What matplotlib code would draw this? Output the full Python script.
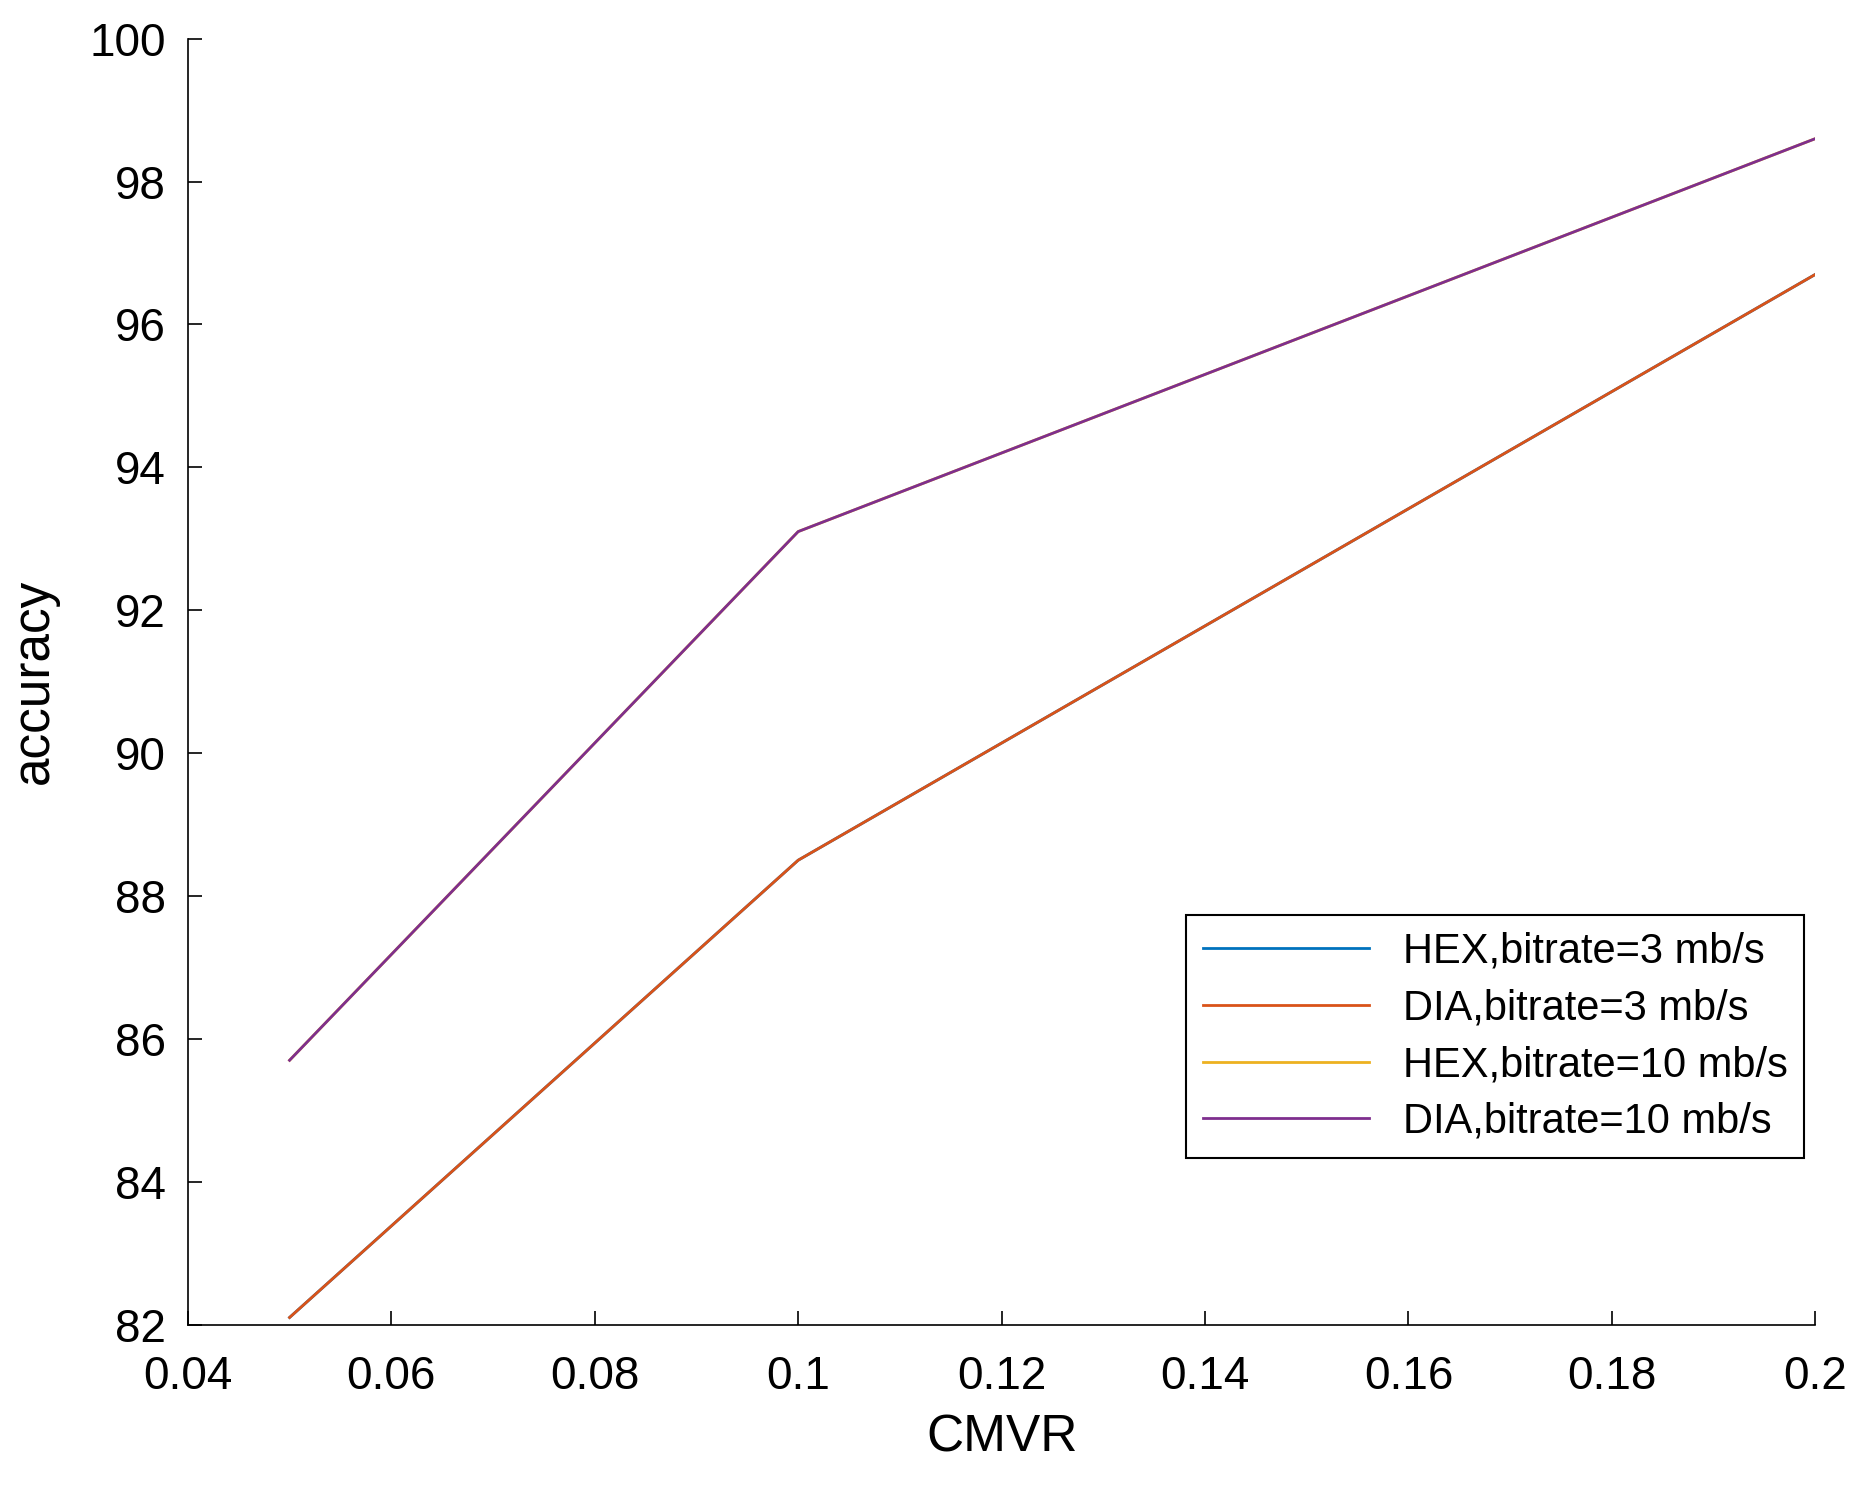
import matplotlib
matplotlib.use('Agg')
import matplotlib.pyplot as plt

plt.rcParams['font.family'] = ['Liberation Sans', 'DejaVu Sans']

cmvr = [0.05, 0.1, 0.2]
hex_3 = [82.1, 88.5, 96.7]
dia_3 = [82.1, 88.5, 96.7]
hex_10 = [85.7, 93.1, 98.6]
dia_10 = [85.7, 93.1, 98.6]
labels = ['HEX,bitrate=3 mb/s', 'DIA,bitrate=3 mb/s',
          'HEX,bitrate=10 mb/s', 'DIA,bitrate=10 mb/s']
colors = ['#0072BD', '#D95319', '#EDB120', '#7E2F8E']

fig = plt.figure(figsize=(18.6, 14.85), dpi=100)
ax = fig.add_axes([0.101, 0.108, 0.875, 0.866])
for ys, lab, c in zip([hex_3, dia_3, hex_10, dia_10], labels, colors):
    ax.plot(cmvr, ys, color=c, lw=2, label=lab)

ax.set_xlim(0.04, 0.2)
ax.set_ylim(82, 100)
ax.set_xticks([0.04, 0.06, 0.08, 0.1, 0.12, 0.14, 0.16, 0.18, 0.2])
ax.set_xticklabels(['0.04', '0.06', '0.08', '0.1', '0.12', '0.14', '0.16', '0.18', '0.2'])
ax.set_yticks(range(82, 101, 2))
ax.tick_params(direction='in', labelsize=33, length=10, width=1.2)
ax.tick_params(axis='x', pad=22)
ax.tick_params(axis='y', pad=16)
for s in ['top', 'right']:
    ax.spines[s].set_visible(False)
for s in ['left', 'bottom']:
    ax.spines[s].set_linewidth(1.2)
ax.set_xlabel('CMVR', fontsize=37, labelpad=10)
ax.set_ylabel('accuracy', fontsize=37, labelpad=22)

leg = ax.legend(loc='lower right', bbox_to_anchor=(1.006, 0.113), fontsize=30,
                fancybox=False, framealpha=1, edgecolor='black',
                handlelength=4, borderpad=0.4, labelspacing=0.4)
leg.get_frame().set_linewidth(1.5)

fig.savefig('out.png')
